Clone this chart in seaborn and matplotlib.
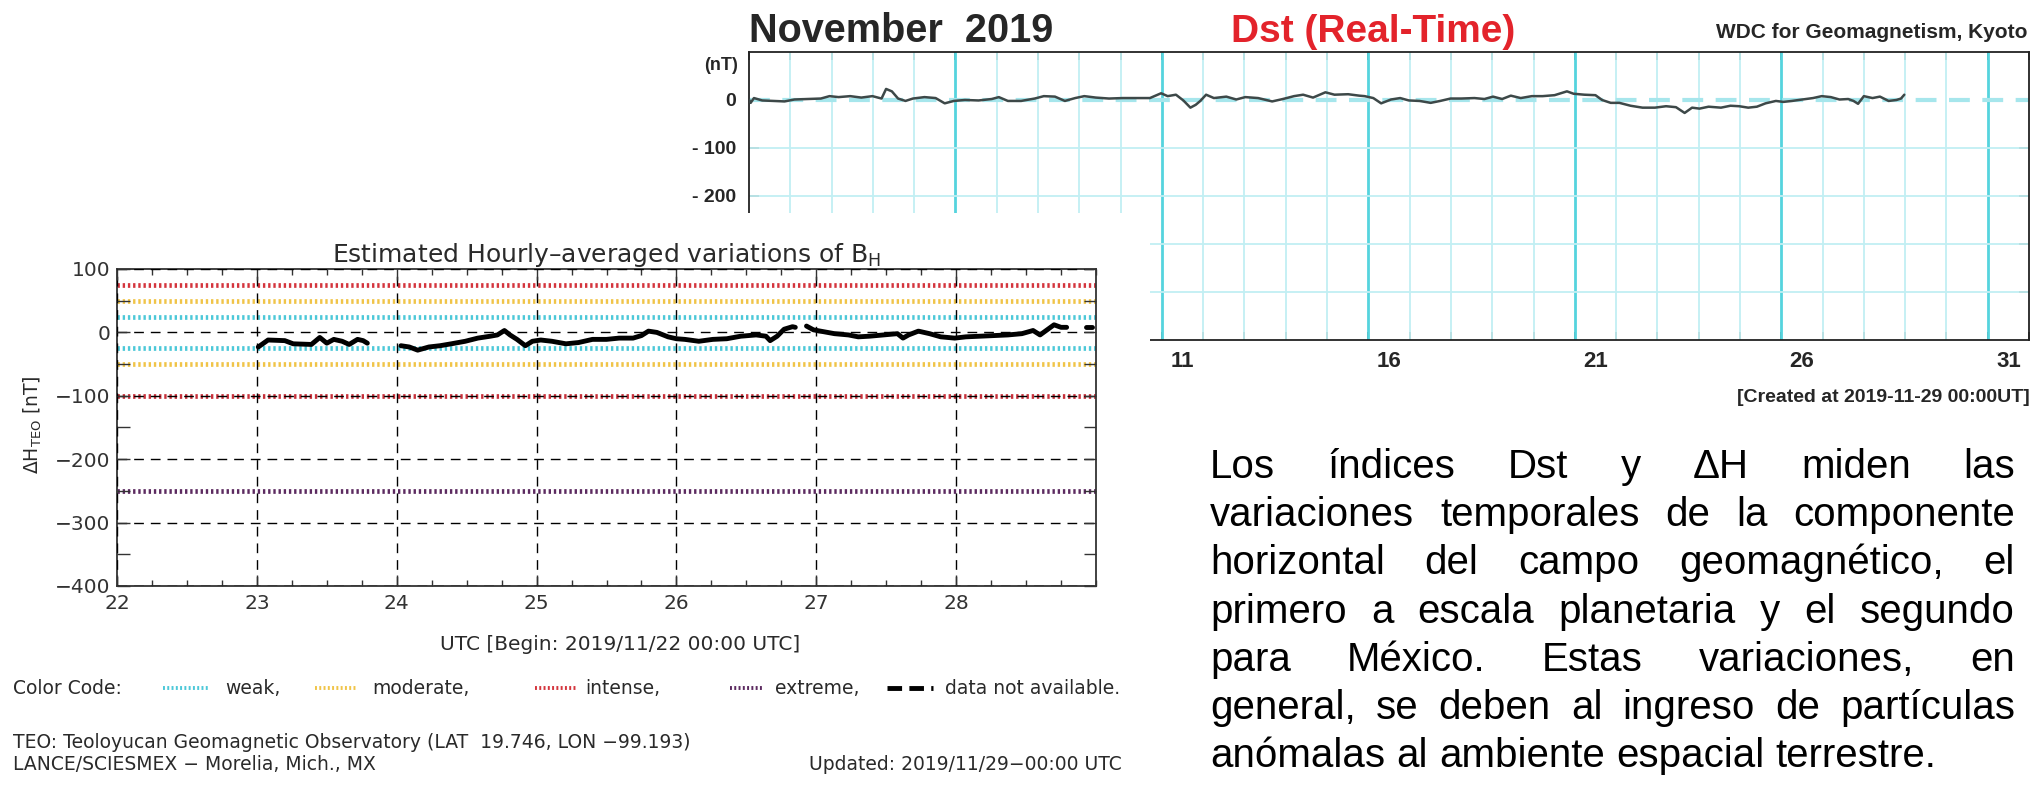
import numpy as np
import pandas as pd
import matplotlib
matplotlib.use("Agg")
import matplotlib.pyplot as plt
import seaborn as sns
from matplotlib.patches import Rectangle
from matplotlib.lines import Line2D

W, H = 2036, 785

# ---- Dst (Kyoto, real-time) November 2019: day of month, nT
dst_day = [1.0, 1.04, 1.12, 1.32, 1.59, 1.86, 2.1, 2.41, 2.74, 2.95, 3.17, 3.45, 3.72, 3.99,
           4.21, 4.32, 4.46, 4.61, 4.79, 4.97, 5.25, 5.52, 5.74, 5.96, 6.23, 6.56, 6.88, 7.05,
           7.27, 7.59, 7.92, 8.14, 8.41, 8.65, 8.9, 9.12, 9.4, 9.72, 10.05, 10.38, 10.71, 10.98,
           11.14, 11.34, 11.52, 11.69, 11.82, 11.93, 12.07, 12.26, 12.56, 12.8, 13.02, 13.33,
           13.67, 13.93, 14.2, 14.42, 14.66, 14.96, 15.18, 15.51, 15.78, 15.91, 16.12, 16.31,
           16.55, 16.77, 16.98, 17.24, 17.51, 17.74, 17.99, 18.25, 18.57, 18.81, 19.02, 19.24,
           19.45, 19.69, 19.96, 20.22, 20.51, 20.81, 20.97, 21.23, 21.5, 21.66, 21.87, 22.08,
           22.35, 22.64, 22.94, 23.21, 23.45, 23.66, 23.84, 24.02, 24.24, 24.54, 24.77, 24.98,
           25.2, 25.41, 25.62, 25.87, 26.05, 26.26, 26.51, 26.77, 26.98, 27.2, 27.41, 27.62,
           27.75, 27.86, 28.0, 28.21, 28.39, 28.6, 28.79, 28.9, 28.98]
dst_val = [0, -7, 3, -2, -3, -4, 0, 1, 2, 7, 5, 7, 4, 7,
           2, 22, 17, 2, -3, 2, 5, 3, -8, -3, -1, -2, 1, 5,
           -3, -3, 2, 7, 6, -3, 3, 7, 4, 2, 3, 3, 3, 13,
           7, 10, -2, -17, -11, -3, 10, 3, 6, 0, 5, 3,
           -4, 1, 7, 10, 4, 15, 10, 11, 8, 7, 3, -8,
           0, 3, -2, -3, -7, -3, 2, 2, 3, 1, 6, 1,
           8, 3, 7, 7, 9, 17, 12, 10, 9, -1, -7, -7,
           -13, -17, -17, -14, -16, -28, -17, -19, -15, -17, -13, -14,
           -17, -15, -8, -3, -5, -3, 0, 3, 7, 5, 0, 1,
           -3, -9, 7, 3, 6, -3, -1, 2, 10]
dst_major_days = [1, 6, 11, 16, 21, 26, 31]
dst_label_days = [11, 16, 21, 26, 31]
dst_yticks = [0, -100, -200, -300, -400]
dst_ylabels = ["0", "- 100", "- 200", "", ""]

# ---- Delta H at Teoloyucan, hourly averages (day of November 2019, nT)
bh_seg1_t = [23.01, 23.08, 23.2, 23.26, 23.39, 23.45, 23.5, 23.55, 23.61, 23.66, 23.72, 23.76, 23.79]
bh_seg1_v = [-23, -12, -13, -18, -19, -8, -17, -11, -14, -19, -11, -13, -17]
bh_seg2_t = [24.03, 24.09, 24.15, 24.23, 24.31, 24.39, 24.49, 24.58, 24.67, 24.72, 24.77, 24.81,
             24.86, 24.92, 24.97, 25.03, 25.11, 25.21, 25.3, 25.4, 25.5, 25.59, 25.69, 25.75,
             25.8, 25.86, 25.94, 26.0, 26.06, 26.16, 26.26, 26.36, 26.46, 26.57, 26.64, 26.67,
             26.72, 26.77, 26.83, 26.85]
bh_seg2_v = [-21, -23, -28, -23, -21, -18, -14, -9, -6, -4, 3, -4,
             -11, -21, -14, -12, -14, -18, -16, -11, -11, -9, -9, -5,
             2, 0, -7, -10, -11, -14, -11, -10, -6, -4, -6, -13,
             -6, 5, 9, 8]
bh_seg3_t = [26.93, 26.98, 27.03, 27.13, 27.23, 27.3, 27.38, 27.48, 27.58, 27.62, 27.66, 27.73,
             27.81, 27.89, 27.99, 28.07, 28.17, 28.27, 28.37, 28.47, 28.55, 28.6, 28.65, 28.7,
             28.75, 28.79]
bh_seg3_v = [10, 4, 2, -2, -4, -7, -6, -4, -2, -9, -4, 2,
             -2, -7, -9, -7, -6, -5, -4, -2, 3, -4, 4, 12,
             8, 8]
bh_na_t = [28.93, 28.97]
bh_na_v = [8, 8]

thr_levels = [75, 50, 25, -25, -50, -100, -250]
thr_colors = ["#d4353d", "#f0c448", "#4cc8d8", "#4cc8d8", "#f0c448", "#c8303a", "#5c2a60"]
bh_days = [22, 23, 24, 25, 26, 27, 28]

para_lines = [
    "Los índices Dst y ΔH miden las",
    "variaciones temporales de la componente",
    "horizontal del campo geomagnético, el",
    "primero a escala planetaria y el segundo",
    "para México. Estas variaciones, en",
    "general, se deben al ingreso de partículas",
    "anómalas al ambiente espacial terrestre.",
]

sns.set_style("white")
plt.rcParams["font.family"] = ["DejaVu Sans"]
plt.rcParams["axes.unicode_minus"] = True


def fy(y):
    return 1 - y / H


def box(l, t, r, b):
    return [l / W, 1 - b / H, (r - l) / W, (b - t) / H]


fig = plt.figure(figsize=(W / 100, H / 100), dpi=100)
fig.patch.set_facecolor("white")

# ================= Dst panel =================
ax1 = fig.add_axes(box(749, 51.5, 2029, 339.5), zorder=1)
ax1.set_xlim(1, 32)
ax1.set_ylim(-500, 100)
for d in range(2, 32):
    if d in dst_major_days:
        ax1.axvline(d, color="#55d4de", lw=2.0, zorder=1)
    else:
        ax1.axvline(d, color="#c2eff3", lw=1.3, zorder=1)
for v in dst_yticks[1:]:
    ax1.axhline(v, color="#c2eff3", lw=1.3, zorder=1)
ax1.axhline(0, color="#a6e6ec", lw=3, dashes=(5, 3), zorder=2)
sns.lineplot(x=dst_day, y=dst_val, ax=ax1, color="#3d4848", lw=1.8, zorder=3)
ax1.set_xticks(range(1, 33))
ax1.set_xticklabels([])
ax1.set_xticks([d + 0.5 for d in dst_label_days], labels=[str(d) for d in dst_label_days], minor=True)
ax1.tick_params(axis="x", which="major", direction="in", length=6, width=1.1,
                top=True, bottom=True, color="#222")
ax1.tick_params(axis="x", which="minor", length=0, pad=8, labelsize=16)
ax1.set_yticks(dst_yticks, labels=dst_ylabels)
ax1.tick_params(axis="y", direction="in", length=7, width=1.1, left=True, right=True,
                pad=9, labelsize=14, color="#222")
for lab in ax1.get_xticklabels(minor=True) + ax1.get_yticklabels():
    lab.set_family("Liberation Sans")
    lab.set_fontweight("bold")
for s in ax1.spines.values():
    s.set_color("#222")
    s.set_linewidth(1.3)
ax1.set_xlabel("")
ax1.set_ylabel("")

bold = dict(family="Liberation Sans", fontweight="bold")
fig.text(749 / W, fy(42), "November  2019", fontsize=28.5, va="baseline", ha="left", **bold)
fig.text(1231 / W, fy(42), "Dst (Real-Time)", fontsize=28, va="baseline", ha="left",
         color="#e3232b", **bold)
fig.text(2028 / W, fy(38), "WDC for Geomagnetism, Kyoto", fontsize=15, va="baseline",
         ha="right", **bold)
fig.text(738 / W, fy(66), "(nT)", fontsize=13, va="center", ha="right", **bold)
fig.text(2030 / W, fy(397), "[Created at 2019-11-29 00:00UT]", fontsize=14, va="center",
         ha="right", **bold)

# white panel on which the Mexican chart is pasted
fig.add_artist(Rectangle((0, 0), 1150 / W, fy(213), transform=fig.transFigure,
                         facecolor="white", edgecolor="none", zorder=2))

# ================= Delta H panel =================
ax2 = fig.add_axes(box(117, 269, 1096, 586), zorder=3)
ax2.set_xlim(22, 29)
ax2.set_ylim(-400, 100)
for lev, col in zip(thr_levels, thr_colors):
    ax2.axhline(lev, color=col, lw=3.4, dashes=(0.5, 0.6), zorder=1)
ax2.grid(True, which="major", color="black", linestyle=(0, (7, 5)), lw=1.0, zorder=2)
ax2.set_axisbelow(False)

bh = pd.concat([
    pd.DataFrame({"t": bh_seg1_t, "v": bh_seg1_v, "seg": 1}),
    pd.DataFrame({"t": bh_seg2_t, "v": bh_seg2_v, "seg": 2}),
    pd.DataFrame({"t": bh_seg3_t, "v": bh_seg3_v, "seg": 3}),
    pd.DataFrame({"t": bh_na_t, "v": bh_na_v, "seg": 4}),
])
sns.lineplot(data=bh, x="t", y="v", units="seg", estimator=None, sort=False,
             color="black", lw=3.5, ax=ax2, legend=False, zorder=4)
ax2.set_xticks(bh_days, labels=[str(d) for d in bh_days])
ax2.set_xticks(np.arange(22, 29.01, 0.25), minor=True)
ax2.set_yticks([100, 0, -100, -200, -300, -400])
ax2.set_yticks(np.arange(-350, 100, 100), minor=True)
ax2.tick_params(axis="x", which="major", direction="in", length=8, width=1, top=True,
                bottom=True, pad=6, labelsize=14.5, labelcolor="#333", color="#333")
ax2.tick_params(axis="x", which="minor", direction="in", length=4, width=1, top=True,
                bottom=True, color="#333")
ax2.tick_params(axis="y", which="both", direction="in", length=9, width=1, left=True,
                right=True, pad=5, labelsize=14.5, labelcolor="#333", color="#333")
for s in ax2.spines.values():
    s.set_color("#333")
    s.set_linewidth(1.3)
ax2.set_xlabel("")
ax2.set_ylabel("")

thin = dict(family="DejaVu Sans", color="#2a2a2a")
fig.text(607 / W, fy(255), "Estimated Hourly–averaged variations of B$_\\mathregular{H}$",
         fontsize=18, ha="center", va="center", **thin)
fig.text(33 / W, fy(425), "ΔH$_\\mathregular{TEO}$ [nT]", fontsize=13.5, rotation=90,
         ha="center", va="center", **thin)
fig.text(620 / W, fy(645), "UTC [Begin: 2019/11/22 00:00 UTC]", fontsize=14.5, ha="center",
         va="center", zorder=5, **thin)

row_y = fy(688)
fig.text(13 / W, row_y, "Color Code:", fontsize=13.5, va="center", zorder=5, **thin)
legend_items = [("weak,", "#4cc8d8", (163, 209), 225),
                ("moderate,", "#f0c448", (315, 357), 372),
                ("intense,", "#d4353d", (535, 577), 585),
                ("extreme,", "#5c2a60", (730, 762), 775)]
for name, col, (x0, x1), xt in legend_items:
    fig.add_artist(Line2D([x0 / W, x1 / W], [row_y, row_y], transform=fig.transFigure,
                          color=col, lw=2.8, dashes=(0.5, 0.6), zorder=5))
    fig.text(xt / W, row_y, name, fontsize=13.5, va="center", zorder=5, **thin)
fig.add_artist(Line2D([887 / W, 933 / W], [row_y, row_y], transform=fig.transFigure,
                      color="black", lw=3.5, dashes=(3, 1.5), zorder=5))
fig.text(945 / W, row_y, "data not available.", fontsize=13.5, va="center", zorder=5, **thin)

fig.text(13 / W, fy(742), "TEO: Teoloyucan Geomagnetic Observatory (LAT  19.746, LON −99.193)",
         fontsize=13.5, va="center", zorder=5, **thin)
fig.text(13 / W, fy(765), "LANCE/SCIESMEX − Morelia, Mich., MX", fontsize=13.5, va="center",
         zorder=5, **thin)
fig.text(1122 / W, fy(765), "Updated: 2019/11/29−00:00 UTC", fontsize=13.5, va="center",
         ha="right", zorder=5, **thin)

# ================= justified paragraph =================
PL, PR = 1210, 2015
renderer = fig.canvas.get_renderer()
for i, line in enumerate(para_lines):
    yb = fy(478 + i * 48.2)
    words = line.split()
    texts = [fig.text(0, yb, w, fontsize=29, va="baseline", ha="left",
                      family="Liberation Sans", color="black") for w in words]
    widths = [t.get_window_extent(renderer).width for t in texts]
    if i < len(para_lines) - 1:
        gap = (PR - PL - sum(widths)) / (len(words) - 1)
    else:
        gap = 11.2
    x = PL
    for t, w in zip(texts, widths):
        t.set_x(x / W)
        x += w + gap

fig.savefig("out.png", dpi=100)
